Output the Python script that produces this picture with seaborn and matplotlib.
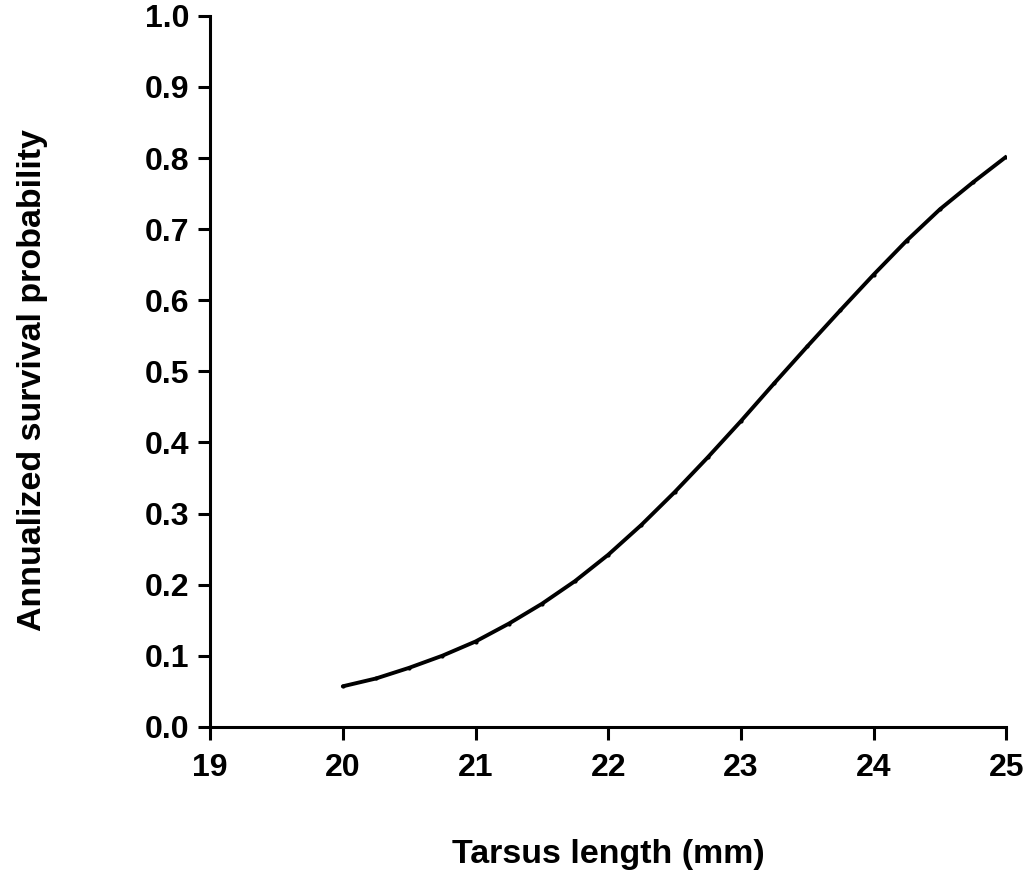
import matplotlib
matplotlib.use("Agg")
import matplotlib.pyplot as plt
import seaborn as sns
import pandas as pd

tarsus = [20.0, 20.25, 20.5, 20.75, 21.0, 21.25, 21.5, 21.75, 22.0, 22.25, 22.5,
          22.75, 23.0, 23.25, 23.5, 23.75, 24.0, 24.25, 24.5, 24.75, 25.0]
survival = [0.057, 0.068, 0.083, 0.100, 0.120, 0.145, 0.173, 0.205, 0.242, 0.284, 0.330,
            0.379, 0.430, 0.483, 0.535, 0.586, 0.636, 0.684, 0.728, 0.766, 0.802]
xticks = [19, 20, 21, 22, 23, 24, 25]
yticks = [0.0, 0.1, 0.2, 0.3, 0.4, 0.5, 0.6, 0.7, 0.8, 0.9, 1.0]

sns.set_style("ticks")
plt.rcParams['font.family'] = ['Liberation Sans', 'DejaVu Sans']
plt.rcParams['text.color'] = 'black'
plt.rcParams['axes.labelcolor'] = 'black'

df = pd.DataFrame({"x": tarsus, "y": survival})

fig = plt.figure(figsize=(10.3, 8.81), dpi=100)
ax = fig.add_axes([0.204, 0.175, 0.773, 0.807])
sns.lineplot(data=df, x="x", y="y", ax=ax, color="black", linewidth=2.8,
             marker="o", markersize=3, markeredgewidth=0)

ax.set_xlim(19, 25)
ax.set_ylim(0, 1.0)
ax.set_xticks(xticks)
ax.set_xticklabels([str(t) for t in xticks], fontweight="bold")
ax.set_yticks(yticks)
ax.set_yticklabels([f"{t:.1f}" for t in yticks], fontweight="bold")
ax.tick_params(axis="both", labelsize=23, length=9, width=2.2, direction="out",
               color="black", labelcolor="black", pad=6)
ax.tick_params(axis="x", pad=10)
for s in ["top", "right"]:
    ax.spines[s].set_visible(False)
for s in ["left", "bottom"]:
    ax.spines[s].set_linewidth(2.2)
    ax.spines[s].set_color("black")

ax.set_xlabel("Tarsus length (mm)", fontsize=24.5, fontweight="bold", labelpad=40)
ax.set_ylabel("Annualized survival probability", fontsize=24.5, fontweight="bold")
ax.yaxis.set_label_coords(-0.203, 0.488, transform=ax.transAxes)

fig.savefig("out.png", dpi=100)
